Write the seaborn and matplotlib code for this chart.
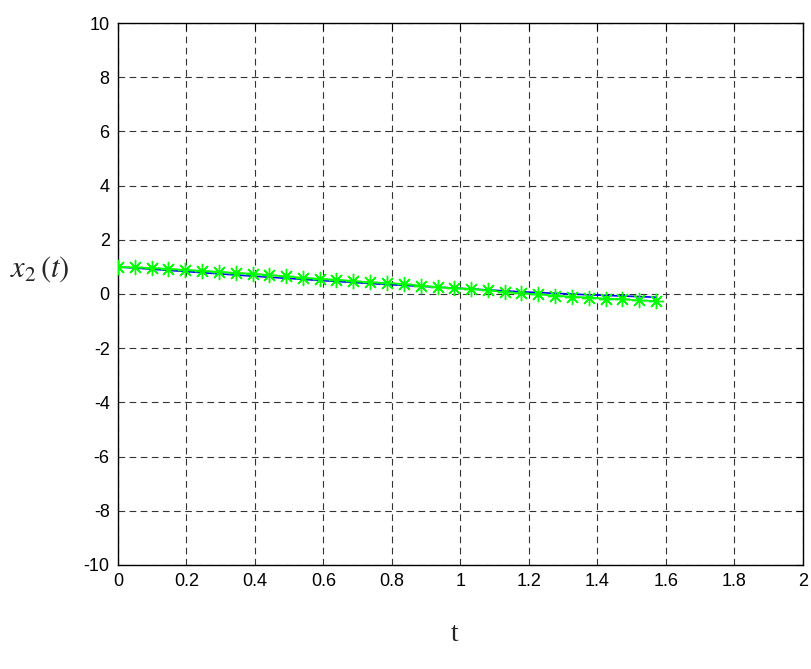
import numpy as np
import pandas as pd
import matplotlib
matplotlib.use("Agg")
import matplotlib.pyplot as plt
import seaborn as sns

# ---- data ----
t_marks = [0.000, 0.049, 0.098, 0.147, 0.196, 0.245, 0.295, 0.344, 0.393, 0.442,
           0.491, 0.540, 0.589, 0.638, 0.687, 0.736, 0.785, 0.834, 0.884, 0.933,
           0.982, 1.031, 1.080, 1.129, 1.178, 1.227, 1.276, 1.325, 1.374, 1.424,
           1.473, 1.522, 1.571]
x2_marks = [1.00, 0.98, 0.96, 0.93, 0.89, 0.86, 0.82, 0.78, 0.75, 0.70,
            0.65, 0.60, 0.56, 0.53, 0.48, 0.43, 0.41, 0.37, 0.31, 0.26,
            0.21, 0.19, 0.13, 0.07, 0.02, -0.01, -0.06, -0.10, -0.13, -0.17,
            -0.19, -0.24, -0.26]
t_line = [0.000, 0.196, 0.393, 0.589, 0.785, 0.982, 1.178, 1.374, 1.571]
x2_line = [1.00, 0.83, 0.66, 0.50, 0.35, 0.22, 0.08, -0.03, -0.12]
xticks = [0, 0.2, 0.4, 0.6, 0.8, 1, 1.2, 1.4, 1.6, 1.8, 2]
xticklabels = ["0", "0.2", "0.4", "0.6", "0.8", "1", "1.2", "1.4", "1.6", "1.8", "2"]
yticks = [-10, -8, -6, -4, -2, 0, 2, 4, 6, 8, 10]

df_m = pd.DataFrame({"t": t_marks, "x2": x2_marks})
df_l = pd.DataFrame({"t": t_line, "x2": x2_line})

sns.set_style("white")
plt.rcParams["font.family"] = ["Liberation Sans", "DejaVu Sans"]
plt.rcParams["mathtext.fontset"] = "stix"
plt.rcParams["axes.unicode_minus"] = False

fig = plt.figure(figsize=(8.12, 6.69), dpi=100)
ax = fig.add_axes([0.1453, 0.1555, 0.8436, 0.8101])

sns.lineplot(data=df_l, x="t", y="x2", ax=ax, color="#0000ff", linewidth=1.2,
             zorder=3)
sns.lineplot(data=df_m, x="t", y="x2", ax=ax, color="#00ff00", linewidth=1.2,
             marker=(8, 2, 0), markersize=11, markeredgewidth=1.0,
             markeredgecolor="#00ff00", zorder=4)

ax.set_xlim(0, 2)
ax.set_ylim(-10, 10)
ax.set_xticks(xticks)
ax.set_xticklabels(xticklabels)
ax.set_yticks(yticks)
ax.tick_params(axis="both", which="both", direction="in", top=True, right=True,
               length=5, width=0.8, labelsize=13, colors="black", pad=6)
for s in ax.spines.values():
    s.set_visible(True)
    s.set_color("black")
    s.set_linewidth(1.0)
ax.grid(True, color="#333333", linestyle=(0, (6, 4)), linewidth=0.8)
ax.set_axisbelow(True)

ax.set_xlabel("")
ax.set_ylabel("")
fig.text(0.012, 0.598, r"$x_2\,(t)$", fontsize=22, ha="left", va="center")
fig.text(0.56, 0.052, "t", fontsize=20, ha="center", va="center",
         family=["Liberation Serif", "DejaVu Serif"])

fig.savefig("out.png", dpi=100, facecolor="white")
